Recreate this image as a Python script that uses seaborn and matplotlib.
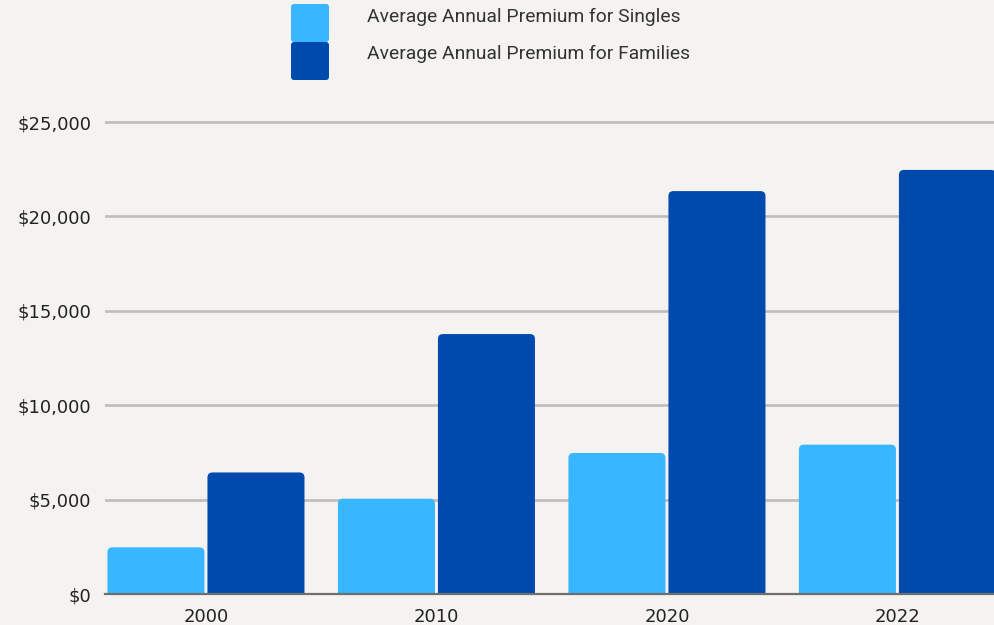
import matplotlib
matplotlib.use("Agg")
import matplotlib.pyplot as plt
import seaborn as sns
import pandas as pd
from matplotlib.patches import FancyBboxPatch
from matplotlib.ticker import FuncFormatter

years = ["2000", "2010", "2020", "2022"]
singles = [2471, 5049, 7470, 7911]
families = [6438, 13770, 21342, 22463]
series_names = ["Average Annual Premium for Singles", "Average Annual Premium for Families"]
colors = ["#38B6FF", "#004AAD"]
yticks = [0, 5000, 10000, 15000, 20000, 25000]

df = pd.DataFrame({
    "Year": years * 2,
    "Premium": singles + families,
    "Series": [series_names[0]] * len(years) + [series_names[1]] * len(years),
})

bg = "#F4F3F1"
sns.set_theme(style="white")
plt.rcParams["font.family"] = ["DejaVu Sans"]

W, H = 994, 625
fig = plt.figure(figsize=(W / 100, H / 100), dpi=100, facecolor=bg)
ax = fig.add_axes([105 / W, 1 - 594 / H, 1 - 105 / W, (594 - 112.6) / H])
ax.set_facecolor(bg)

sns.barplot(data=df, x="Year", y="Premium", hue="Series", hue_order=series_names,
            order=years, palette=colors, width=0.868, gap=0.03, saturation=1,
            legend=False, ax=ax)
ax.set_xlim(-0.438, 3.419)
ax.set_ylim(0, 25500)

# rounded bar tops
p0 = ax.transData.transform((0, 0))
p1 = ax.transData.transform((1, 1))
px_x = p1[0] - p0[0]
px_y = p1[1] - p0[1]
r = 5 / px_x
m = px_x / px_y
for rect in list(ax.patches):
    x, y0 = rect.get_xy()
    w, h = rect.get_width(), rect.get_height()
    if h <= 0:
        continue
    ext = 10 / px_y
    fb = FancyBboxPatch((x, y0 - ext), w, h + ext,
                        boxstyle=f"round,pad=0,rounding_size={r}",
                        mutation_aspect=m, facecolor=rect.get_facecolor(),
                        edgecolor="none", zorder=2)
    ax.add_patch(fb)
    rect.remove()

ax.set_yticks(yticks)
ax.yaxis.set_major_formatter(FuncFormatter(lambda v, p: f"${v:,.0f}"))
ax.yaxis.grid(True, color="#BFBDBA", linewidth=1.9)
ax.set_axisbelow(True)
for s in ["top", "right", "left"]:
    ax.spines[s].set_visible(False)
ax.spines["bottom"].set_color("#6E6E6E")
ax.spines["bottom"].set_linewidth(1.6)
ax.spines["bottom"].set_zorder(3)
ax.tick_params(axis="y", length=0, pad=10, labelsize=13, labelcolor="#222222")
ax.tick_params(axis="x", length=0, pad=10, labelsize=13, labelcolor="#222222")
ax.set_xlabel("")
ax.set_ylabel("")

# legend: stacked colour squares with labels
for i, (name, c) in enumerate(zip(series_names, colors)):
    top = 4 + 38 * i
    sq = FancyBboxPatch((291, H - top - 38), 38, 38,
                        boxstyle="round,pad=0,rounding_size=3",
                        facecolor=c, edgecolor="none", transform=None)
    fig.add_artist(sq)
    fig.text(367 / W, 1 - (22 + 37 * i) / H, name, ha="left", va="baseline",
             fontsize=13.9, color="#333333",
             family=["Roboto", "DejaVu Sans"])

fig.savefig("out.png", dpi=100, facecolor=bg)
